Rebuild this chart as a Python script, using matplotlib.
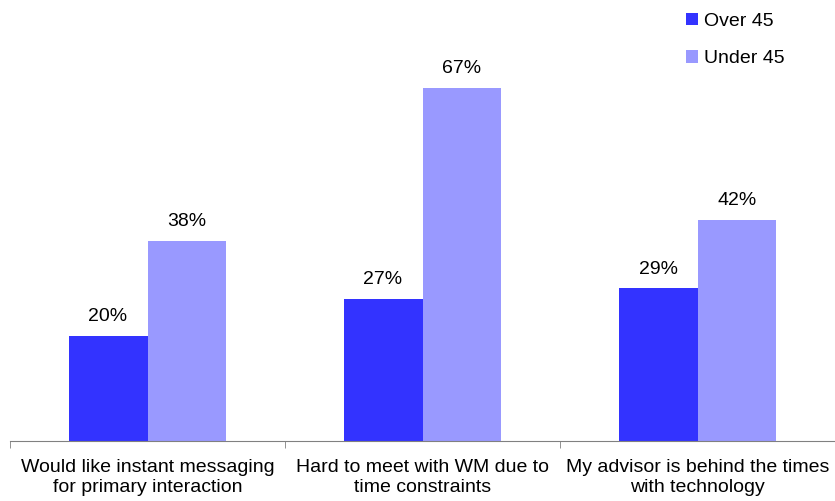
import numpy as np
import matplotlib.pyplot as plt

categories = ["Would like instant messaging\nfor primary interaction",
              "Hard to meet with WM due to\ntime constraints",
              "My advisor is behind the times\nwith technology"]
over_45 = [20, 27, 29]
under_45 = [38, 67, 42]

plt.rcParams['font.family'] = ['Liberation Sans', 'DejaVu Sans']

fig = plt.figure(figsize=(8.35, 5.01), dpi=100)
ax = fig.add_axes([10 / 835, 60 / 501, 825 / 835, 421.6 / 501])

x = np.arange(len(categories))
w = 0.287
b1 = ax.bar(x - w / 2, over_45, w, color='#3333FF', label='Over 45')
b2 = ax.bar(x + w / 2, under_45, w, color='#9999FF', label='Under 45')

for bars, vals in ((b1, over_45), (b2, under_45)):
    for rect, v in zip(bars, vals):
        ax.annotate(f"{v}%", (rect.get_x() + rect.get_width() / 2, v),
                    xytext=(0, 7.5), textcoords='offset points',
                    ha='center', va='bottom', fontsize=14)

ax.set_xlim(-0.5, 2.5)
ax.set_ylim(0, 80)
ax.set_yticks([])
for s in ('top', 'right', 'left'):
    ax.spines[s].set_visible(False)
ax.spines['bottom'].set_color('#808080')

ax.set_xticks(x)
ax.set_xticklabels(categories, fontsize=14, linespacing=1.2)
ax.tick_params(axis='x', which='major', length=0, pad=13)
ax.set_xticks([-0.5, 0.5, 1.5, 2.5], minor=True)
ax.tick_params(axis='x', which='minor', length=5, color='#808080')

fig.legend(loc='upper left', bbox_to_anchor=(686 / 835, 1 - 13 / 501),
           frameon=False, fontsize=14, handlelength=0.6, handleheight=0.6,
           handletextpad=0.3, labelspacing=1.05, borderpad=0, borderaxespad=0)

fig.savefig('out.png', dpi=100)
